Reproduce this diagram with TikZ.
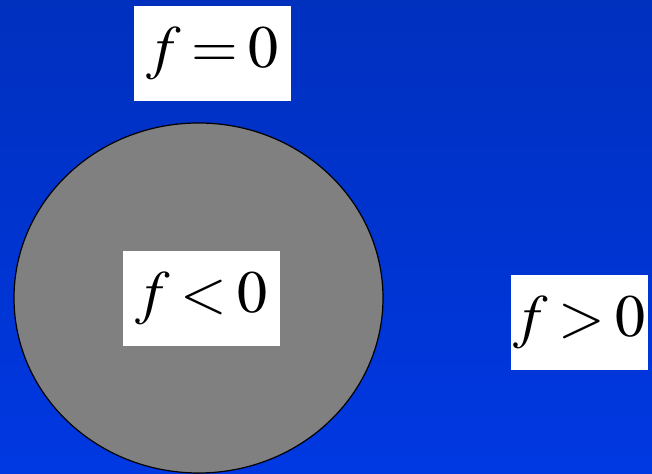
\documentclass[tikz,border=0pt]{standalone}
\usepackage{mathptmx}
\usepackage{tikz}
\usetikzlibrary{positioning}

\definecolor{bgtop}{RGB}{0,48,190}
\definecolor{bgbot}{RGB}{0,56,226}
\definecolor{region}{RGB}{128,128,128}

\thickmuskip=3mu

\tikzset{
    label box/.style={fill=white, inner sep=0pt, minimum height=47.5pt,
        font=\fontsize{30}{36}\selectfont},
}

\begin{document}
\begin{tikzpicture}[x=0.5pt,y=0.5pt]
    \useasboundingbox (0,0) rectangle (652,474);
    \shade[top color=bgtop, bottom color=bgbot] (0,0) rectangle (652,474);

    \draw[fill=region, line width=0.6pt] (198.5,176) ellipse (184.5 and 175);

    \node[label box, minimum width=78.5pt] (eq) at (212.5,420.5) {\(f=0\)};
    \node[label box, minimum width=78.5pt] (lt) at (201.5,175) {\(f<0\)};
    \node[label box, minimum width=68.5pt] (gt) at (579.5,151) {\(f>0\)};
\end{tikzpicture}
\end{document}
